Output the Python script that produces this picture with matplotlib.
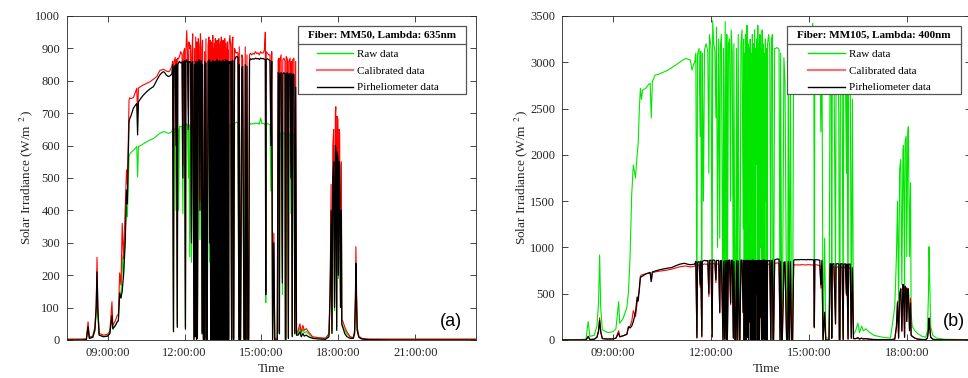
import matplotlib
matplotlib.use('Agg')
import matplotlib.pyplot as plt
from matplotlib.lines import Line2D
from matplotlib.patches import Rectangle
import numpy as np

plt.rcParams['font.family'] = 'Liberation Serif'
plt.rcParams['mathtext.fontset'] = 'stix'

# time of day in minutes (shared by all series)
minutes = [445, 480, 490, 494, 497, 505, 510, 513, 515, 517,
           520, 530, 540, 545, 550, 552, 558, 562, 565, 568,
           571, 574, 577, 581, 584, 586, 588, 590, 592, 594,
           600, 605, 608, 610, 612, 617, 623, 631, 639, 647,
           655, 662, 667, 670, 673, 677, 682, 685, 688, 690,
           692, 694, 695, 698, 700, 701, 703, 704, 706, 708,
           711, 714, 716, 717, 720, 722, 723, 725, 727, 729,
           730, 732, 734, 736, 737, 739, 742, 743, 745, 746,
           748, 749, 750, 752, 754, 756, 757, 759, 761, 762,
           764, 765, 767, 768, 770, 772, 773, 775, 777, 779,
           780, 781, 782, 783, 784, 785, 786, 787, 788, 789,
           790, 791, 792, 793, 794, 795, 796, 797, 798, 799,
           800, 801, 802, 803, 804, 805, 806, 807, 808, 809,
           810, 811, 812, 813, 814, 815, 816, 817, 818, 819,
           820, 821, 822, 823, 824, 826, 828, 830, 831, 833,
           834, 835, 837, 839, 841, 843, 845, 847, 848, 850,
           851, 853, 854, 856, 858, 859, 861, 862, 864, 866,
           868, 870, 872, 874, 877, 880, 883, 886, 889, 892,
           895, 898, 901, 904, 907, 909, 910, 911, 914, 917,
           920, 922, 924, 926, 929, 931, 934, 937, 939, 941,
           942, 943, 946, 949, 950, 953, 955, 956, 957, 958,
           961, 963, 964, 967, 969, 970, 972, 973, 976, 978,
           980, 982, 986, 990, 993, 997, 1000, 1005, 1010, 1020,
           1035, 1050, 1058, 1061, 1063, 1065, 1067, 1069, 1071, 1073,
           1074, 1076, 1077, 1079, 1080, 1082, 1083, 1085, 1087, 1088,
           1090, 1095, 1100, 1108, 1115, 1118, 1120, 1121, 1122, 1124,
           1128, 1135, 1150, 1200, 1405]

# pirheliometer reference (same in both panels)
pyr = [0, 0, 1, 40, 5, 8, 30, 100, 210, 90,
       15, 10, 12, 20, 75, 35, 45, 55, 60, 144,
       130, 150, 200, 298, 463, 420, 560, 674, 685, 690,
       715, 725, 730, 633, 735, 745, 755, 766, 775, 782,
       802, 818, 825, 828, 826, 818, 813, 815, 818, 820,
       850, 26, 840, 848, 600, 852, 40, 850, 855, 860,
       855, 858, 500, 860, 862, 35, 860, 865, 855, 650,
       860, 858, 860, 300, 855, 860, 0, 850, 10, 860,
       0, 858, 5, 860, 865, 400, 860, 862, 20, 850,
       0, 0, 860, 0, 855, 0, 0, 860, 865, 300,
       860, 0, 855, 10, 858, 0, 862, 30, 860, 0,
       856, 200, 860, 0, 858, 5, 865, 0, 860, 40,
       858, 0, 862, 500, 860, 0, 855, 10, 860, 0,
       862, 250, 858, 0, 860, 0, 865, 20, 860, 0,
       862, 400, 858, 0, 860, 855, 860, 0, 858, 862,
       0, 0, 865, 870, 875, 875, 872, 0, 850, 0,
       0, 500, 840, 845, 300, 0, 0, 850, 0, 845,
       0, 0, 860, 868, 866, 868, 867, 870, 868, 869,
       866, 870, 868, 869, 866, 866, 140, 866, 868, 865,
       862, 600, 860, 0, 300, 0, 0, 0, 825, 822,
       20, 820, 825, 176, 822, 825, 820, 0, 0, 822,
       825, 5, 820, 823, 500, 822, 10, 820, 820, 20,
       780, 15, 15, 25, 10, 20, 12, 15, 10, 5,
       3, 2, 10, 150, 400, 20, 500, 550, 100, 600,
       590, 30, 580, 560, 200, 550, 540, 100, 400, 50,
       40, 20, 10, 5, 5, 20, 120, 237, 150, 30,
       8, 3, 1, 0, 0]

# panel (a): MM50, 635 nm
cal_a = [3, 3, 4, 56, 9, 12, 40, 105, 255, 100,
         20, 15, 18, 28, 118, 45, 60, 75, 80, 207,
         170, 360, 250, 406, 525, 480, 600, 741, 748, 745,
         748, 765, 777, 700, 778, 782, 787, 792, 797, 805,
         813, 832, 834, 835, 834, 830, 828, 830, 838, 844,
         860, 30, 858, 872, 640, 866, 50, 870, 868, 875,
         890, 880, 540, 885, 900, 41, 890, 955, 880, 700,
         920, 900, 910, 330, 880, 945, 5, 900, 15, 935,
         4, 920, 8, 930, 910, 430, 945, 900, 25, 925,
         4, 5, 890, 4, 930, 5, 4, 910, 935, 330,
         925, 5, 890, 15, 920, 4, 940, 35, 900, 4,
         915, 230, 930, 5, 905, 8, 925, 4, 895, 48,
         930, 5, 910, 540, 920, 4, 935, 15, 900, 4,
         925, 280, 905, 5, 930, 4, 915, 25, 900, 4,
         920, 430, 895, 5, 910, 940, 905, 4, 915, 935,
         5, 4, 900, 890, 885, 888, 885, 5, 905, 4,
         5, 540, 880, 870, 330, 5, 4, 905, 5, 880,
         4, 5, 880, 885, 880, 885, 882, 890, 884, 886,
         880, 890, 885, 886, 895, 950, 150, 890, 885, 880,
         880, 630, 890, 5, 330, 4, 5, 4, 865, 870,
         25, 860, 880, 190, 865, 870, 860, 5, 4, 875,
         865, 8, 860, 870, 540, 860, 15, 865, 870, 25,
         860, 20, 30, 50, 25, 45, 30, 35, 25, 10,
         7, 6, 20, 200, 480, 30, 600, 650, 120, 700,
         720, 40, 690, 680, 250, 650, 640, 130, 550, 60,
         60, 40, 25, 10, 8, 30, 150, 288, 200, 40,
         12, 5, 3, 3, 3]

raw_a = [1, 1, 2, 40, 6, 9, 30, 80, 150, 75,
         15, 11, 13, 20, 85, 33, 45, 56, 60, 150,
         128, 260, 190, 340, 410, 380, 470, 566, 575, 578,
         585, 592, 597, 503, 598, 600, 605, 612, 617, 622,
         630, 638, 641, 643, 643, 640, 638, 639, 641, 643,
         650, 25, 648, 655, 400, 655, 38, 652, 400, 660,
         658, 660, 390, 662, 665, 30, 662, 668, 660, 500,
         665, 257, 664, 240, 660, 665, 4, 655, 12, 665,
         3, 663, 6, 665, 668, 310, 665, 666, 18, 656,
         3, 4, 665, 3, 660, 4, 3, 665, 668, 240,
         665, 4, 660, 12, 663, 3, 666, 27, 665, 3,
         661, 170, 665, 4, 663, 6, 668, 3, 665, 35,
         663, 4, 666, 390, 665, 3, 660, 12, 665, 3,
         666, 200, 663, 4, 665, 3, 668, 18, 665, 3,
         666, 310, 663, 4, 665, 660, 665, 3, 663, 666,
         4, 3, 668, 670, 672, 672, 670, 4, 655, 3,
         4, 390, 648, 650, 240, 4, 3, 655, 4, 650,
         3, 4, 665, 668, 666, 668, 667, 670, 668, 669,
         666, 685, 668, 669, 666, 668, 115, 666, 668, 666,
         664, 460, 662, 4, 240, 3, 4, 3, 640, 638,
         18, 636, 640, 140, 638, 640, 636, 4, 3, 638,
         640, 6, 636, 639, 390, 638, 12, 636, 636, 18,
         600, 15, 22, 38, 19, 34, 22, 26, 19, 7,
         5, 4, 15, 150, 360, 22, 450, 490, 90, 530,
         540, 30, 520, 510, 190, 490, 480, 100, 410, 45,
         45, 30, 19, 7, 6, 22, 110, 215, 150, 30,
         9, 4, 2, 1, 1]

# panel (b): MM105, 400 nm
cal_b = [0, 0, 1, 35, 5, 8, 30, 90, 240, 85,
         15, 10, 12, 20, 100, 35, 45, 55, 60, 130,
         150, 198, 318, 252, 400, 475, 520, 690, 702, 705,
         715, 720, 725, 630, 728, 735, 742, 748, 755, 765,
         778, 790, 795, 798, 800, 795, 790, 790, 795, 800,
         810, 20, 805, 812, 570, 815, 30, 812, 818, 822,
         818, 820, 470, 822, 825, 30, 822, 828, 818, 620,
         822, 820, 822, 290, 818, 822, 0, 812, 8, 822,
         0, 820, 4, 822, 828, 380, 822, 825, 18, 812,
         0, 0, 822, 0, 818, 0, 0, 822, 828, 290,
         822, 0, 818, 10, 820, 0, 825, 28, 822, 0,
         818, 190, 822, 0, 820, 5, 828, 0, 822, 38,
         820, 0, 825, 480, 822, 0, 818, 10, 822, 0,
         825, 240, 820, 0, 822, 0, 828, 18, 822, 0,
         825, 380, 820, 0, 822, 818, 822, 0, 820, 825,
         0, 0, 828, 830, 832, 832, 830, 0, 812, 0,
         0, 480, 805, 808, 290, 0, 0, 812, 0, 808,
         0, 0, 815, 812, 810, 812, 810, 814, 812, 812,
         810, 814, 812, 812, 810, 810, 130, 810, 812, 808,
         806, 560, 805, 0, 280, 0, 0, 0, 790, 788,
         18, 786, 790, 170, 788, 790, 786, 0, 0, 788,
         790, 5, 786, 788, 480, 788, 10, 786, 786, 18,
         760, 15, 15, 20, 10, 18, 12, 14, 10, 5,
         3, 2, 10, 130, 420, 20, 480, 560, 90, 590,
         600, 30, 570, 550, 200, 560, 550, 150, 450, 60,
         40, 20, 10, 5, 5, 20, 100, 230, 160, 30,
         8, 3, 1, 0, 0]

raw_b = [3, 5, 10, 198, 40, 50, 150, 400, 918, 350,
         110, 80, 90, 120, 414, 180, 230, 300, 350, 507,
         900, 1566, 1890, 1750, 2000, 2124, 2484, 2718, 2600, 2700,
         2720, 2760, 2772, 2398, 2790, 2862, 2870, 2890, 2910, 2940,
         2970, 3000, 3020, 3030, 3042, 3035, 3024, 2916, 2980, 3000,
         3100, 60, 3080, 3150, 2200, 3120, 100, 3100, 1500, 3140,
         3200, 3110, 1800, 3300, 3160, 120, 3450, 3200, 3130, 2400,
         3380, 1000, 3250, 1100, 3150, 3300, 30, 3150, 60, 3440,
         20, 3300, 30, 3200, 3250, 1500, 3350, 3100, 80, 3200,
         20, 25, 3150, 20, 3300, 30, 20, 3200, 3350, 1200,
         3250, 20, 3100, 50, 3300, 20, 3400, 100, 3200, 20,
         3150, 800, 3250, 25, 3100, 30, 3300, 20, 3200, 150,
         3350, 20, 3150, 1900, 3250, 20, 3400, 50, 3200, 20,
         3300, 1000, 3150, 25, 3350, 20, 3200, 80, 3100, 20,
         3250, 1500, 3150, 20, 3200, 3300, 3150, 20, 3250, 3300,
         25, 20, 3150, 3150, 3160, 3150, 3140, 20, 3100, 20,
         25, 1900, 3050, 2800, 1100, 20, 20, 3000, 25, 2900,
         20, 25, 3200, 3250, 3230, 3250, 3240, 3260, 3250, 3255,
         3240, 3270, 3250, 3260, 3420, 3250, 520, 3240, 3250, 3240,
         3230, 2250, 3200, 20, 1100, 20, 25, 20, 3050, 3000,
         80, 2950, 3100, 650, 3000, 3050, 2450, 20, 20, 3000,
         3050, 30, 2950, 3000, 1800, 2900, 50, 2950, 3000, 80,
         2600, 60, 100, 183, 80, 150, 100, 120, 90, 50,
         30, 20, 360, 900, 1500, 400, 1850, 1950, 600, 2050,
         2100, 500, 2150, 2200, 900, 2250, 2304, 900, 1700, 300,
         150, 100, 70, 40, 30, 100, 500, 1008, 700, 150,
         50, 20, 8, 3, 2]

xtick_hours = [9, 12, 15, 18, 21]
xtick_labels = ['09:00:00', '12:00:00', '15:00:00', '18:00:00', '21:00:00']
legend_labels = ['Raw data', 'Calibrated data', 'Pirheliometer data']
titles = ['Fiber: MM50, Lambda: 635nm', 'Fiber: MM105, Lambda: 400nm']

GREEN = '#00e600'
DARK = '#262626'

hours = np.array(minutes) / 60.0


def draw_panel(ax, raw, cal, xlim, ymax, ystep, title, tag, tag_x, box_x0, hand_x):
    ax.plot(hours, raw, color=GREEN, lw=0.8)
    ax.plot(hours, cal, color='red', lw=0.8)
    ax.plot(hours, pyr, color='black', lw=0.9)

    # ticks first, limits after (set_xticks would widen the view)
    ax.set_xticks(xtick_hours)
    ax.set_xticklabels(xtick_labels)
    ax.set_yticks(np.arange(0, ymax + 1, ystep))
    ax.set_xlim(*xlim)
    ax.set_ylim(0, ymax)
    ax.tick_params(direction='in', top=True, right=True, length=4,
                   width=0.6, colors=DARK, labelsize=9, pad=5)
    for s in ax.spines.values():
        s.set_color(DARK)
        s.set_linewidth(0.6)
    ax.set_xlabel('Time', fontsize=9.5, color=DARK, labelpad=3)
    ax.set_ylabel(r'Solar Irradiance (W/m$^{\ \ 2}$)', fontsize=9.5,
                  color=DARK, labelpad=0)

    ax.text(tag_x, 0.056, tag, transform=ax.transAxes, ha='center',
            va='center', fontsize=13, family='Liberation Sans', color='black')

    # legend box with title row
    box_x1 = 0.975
    y_top, y_bot, y_sep = 0.970, 0.759, 0.9136
    ax.add_patch(Rectangle((box_x0, y_bot), box_x1 - box_x0, y_top - y_bot,
                           transform=ax.transAxes, facecolor='white',
                           edgecolor='#555555', lw=0.9, zorder=5))
    ax.plot([box_x0, box_x1], [y_sep, y_sep], transform=ax.transAxes,
            color='#555555', lw=0.9, zorder=6)
    ax.text((box_x0 + box_x1) / 2, (y_top + y_sep) / 2, title,
            transform=ax.transAxes, ha='center', va='center',
            fontsize=8, fontweight='bold', zorder=7)
    handles = [Line2D([], [], color=GREEN, lw=1),
               Line2D([], [], color='#f07575', lw=1.6),
               Line2D([], [], color='black', lw=1)]
    leg = ax.legend(handles, legend_labels, loc='upper left',
                    bbox_to_anchor=(hand_x, 0.897), frameon=False,
                    fontsize=8, handlelength=3.3, handletextpad=0.35,
                    labelspacing=0.62, borderpad=0, borderaxespad=0)
    leg.set_zorder(8)


fig = plt.figure(figsize=(9.68, 3.78), dpi=100)
ax_a = fig.add_axes([67 / 968, 38 / 378, 409 / 968, 324 / 378])
ax_b = fig.add_axes([562 / 968, 38 / 378, 409 / 968, 324 / 378])

draw_panel(ax_a, raw_a, cal_a, (7.412, 23.37), 1000, 100, titles[0],
           '(a)', 0.939, 0.5655, 0.6105)
draw_panel(ax_b, raw_b, cal_b, (7.43, 19.97), 3500, 500, titles[1],
           '(b)', 0.958, 0.551, 0.602)

fig.savefig('out.png', dpi=100)
